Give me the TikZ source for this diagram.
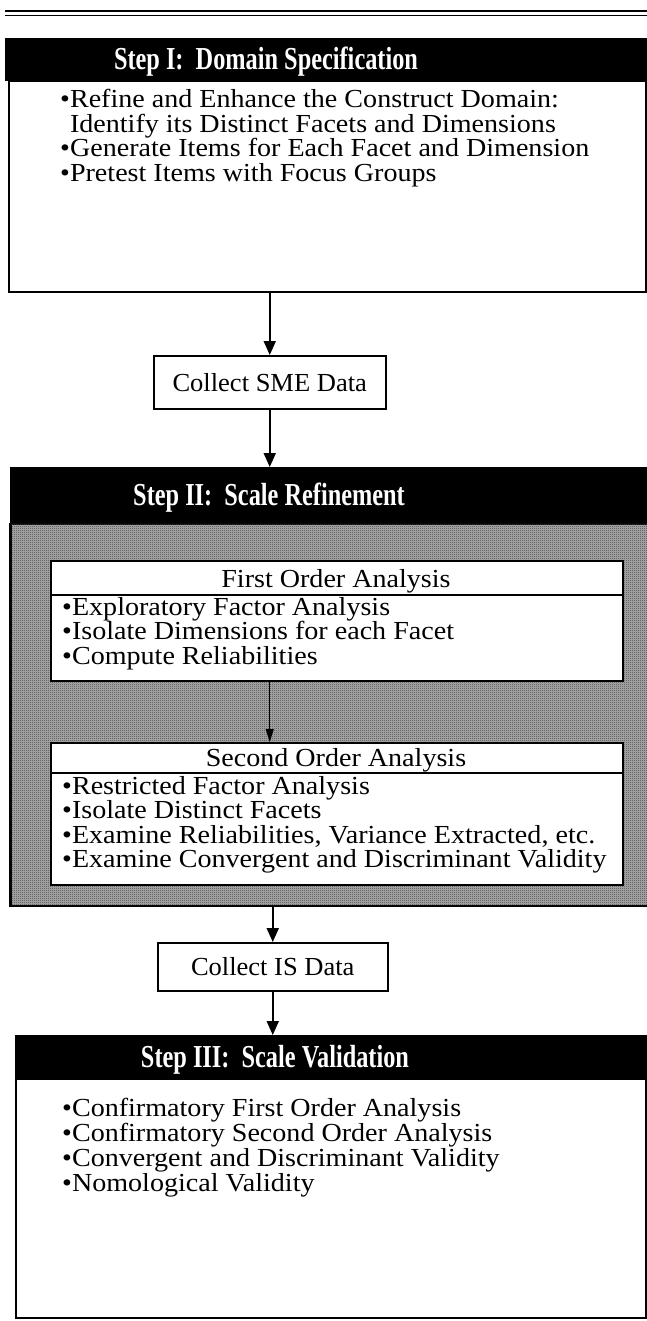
\documentclass[tikz,border=0pt]{standalone}
\usepackage{fontspec}
\setmainfont{Liberation Serif}
% wide body face and narrow heavy face for the step bands
\newfontfamily\bodyface{Liberation Serif}[FakeStretch=1.08]
\newfontfamily\boxface{Liberation Serif}[FakeStretch=1.02]
\newfontfamily\bandface{Liberation Serif Bold}[FakeStretch=0.76]
\usetikzlibrary{arrows.meta,patterns.meta}

% fine halftone dots for the Step II panel
\pgfdeclarepattern{
  name=stippledots,
  type=uncolored,
  bottom left={\pgfpoint{0pt}{0pt}},
  top right={\pgfpoint{2pt}{2pt}},
  tile size={\pgfpoint{2pt}{2pt}},
  code={
    \pgfpathrectangle{\pgfpoint{0pt}{0pt}}{\pgfpoint{1pt}{1pt}}
    \pgfpathrectangle{\pgfpoint{1pt}{1pt}}{\pgfpoint{1pt}{1pt}}
    \pgfusepath{fill}
  }
}

\tikzset{
  panel/.style={draw=black, line width=1.9pt, fill=white, inner sep=0pt},
  band/.style={draw=black, fill=black, line width=0.5pt, inner sep=0pt},
  bandtext/.style={text=white, inner sep=0pt, anchor=base,
    font=\bandface\fontsize{32}{32}\selectfont},
  item/.style={anchor=base west, inner sep=0pt, font=\bodyface\fontsize{26}{24}\selectfont},
  subtitle/.style={anchor=base, inner sep=0pt, font=\bodyface\fontsize{26}{24}\selectfont},
  collect/.style={draw=black, line width=1.5pt, fill=white, inner sep=0pt,
    font=\boxface\fontsize{26}{26}\selectfont},
  flow/.style={line width=2pt, -{Triangle[width=12pt,length=14pt]}},
  thinflow/.style={line width=1pt, -{Triangle[width=8pt,length=13pt]}},
}

\begin{document}
\begin{tikzpicture}[x=1pt,y=-1pt]
\useasboundingbox (0,0) rectangle (647,1321);

% double rule along the top
\draw[line width=1.3pt] (5,11) -- (647,11);
\draw[line width=1.8pt] (5,15.5) -- (647,15.5);

% ---------- Step I ----------
\node[panel, minimum width=637, minimum height=211, anchor=north west] (body1) at (8,80) {};
\node[band, minimum width=642, minimum height=42, anchor=north west] (head1) at (5,38) {};
\node[bandtext] (title1) at (266,70) {Step I:\ \ Domain Specification};
\node[item] (i1a) at (60,108) {\textbullet Refine and Enhance the Construct Domain:};
\node[item] (i1b) at (60,132.5) {\hphantom{\textbullet}Identify its Distinct Facets and Dimensions};
\node[item] (i1c) at (60,157) {\textbullet Generate Items for Each Facet and Dimension};
\node[item] (i1d) at (60,181.5) {\textbullet Pretest Items with Focus Groups};

% ---------- Collect SME Data ----------
\node[collect, minimum width=232, minimum height=53, anchor=north west] (sme) at (153,355) {Collect SME Data};

% ---------- Step II ----------
\node[band, minimum width=637, minimum height=56, anchor=north west] (head2) at (10,467) {};
\node[bandtext] (title2) at (269,505) {Step II:\ \ Scale Refinement};
\node[draw=black, line width=1.5pt, fill=black!32, inner sep=0pt,
      minimum width=637, minimum height=382, anchor=north west] (shade) at (10,523) {};
\fill[pattern=stippledots, pattern color=black!75] (shade.north west) rectangle (shade.south east);
\draw[line width=1.5pt] (shade.north west) -- (shade.south west) -- (shade.south east);

% first order analysis
\node[panel, minimum width=572, minimum height=120, anchor=north west] (fo) at (50,560) {};
\draw[line width=1.5pt] (fo.west |- 0,595) -- (fo.east |- 0,595);
\node[subtitle] (fot) at (336,587) {First Order Analysis};
\node[item] (fo1) at (62,615) {\textbullet Exploratory Factor Analysis};
\node[item] (fo2) at (62,639.5) {\textbullet Isolate Dimensions for each Facet};
\node[item] (fo3) at (62,664) {\textbullet Compute Reliabilities};

% second order analysis
\node[panel, minimum width=572, minimum height=142, anchor=north west] (so) at (50,742) {};
\draw[line width=1.5pt] (so.west |- 0,773) -- (so.east |- 0,773);
\node[subtitle] (sot) at (336,766) {Second Order Analysis};
\node[item] (so1) at (62,794) {\textbullet Restricted Factor Analysis};
\node[item] (so2) at (62,818.5) {\textbullet Isolate Distinct Facets};
\node[item] (so3) at (62,843) {\textbullet Examine Reliabilities, Variance Extracted, etc.};
\node[item] (so4) at (62,867.5) {\textbullet Examine Convergent and Discriminant Validity};

% ---------- Collect IS Data ----------
\node[collect, minimum width=230, minimum height=48, anchor=north west] (isd) at (157,942) {Collect IS Data};

% ---------- Step III ----------
\node[panel, minimum width=630, minimum height=239, anchor=north west] (body3) at (15,1078) {};
\node[band, minimum width=632, minimum height=43, anchor=north west] (head3) at (15,1035) {};
\node[bandtext] (title3) at (275,1067) {Step III:\ \ Scale Validation};
\node[item] (v1) at (62,1116) {\textbullet Confirmatory First Order Analysis};
\node[item] (v2) at (62,1141) {\textbullet Confirmatory Second Order Analysis};
\node[item] (v3) at (62,1166) {\textbullet Convergent and Discriminant Validity};
\node[item] (v4) at (62,1191) {\textbullet Nomological Validity};

% ---------- connectors ----------
\draw[flow] (body1.south -| sme.north) -- (sme.north);
\draw[flow] (sme.south) -- (head2.north -| sme.south);
\draw[thinflow] (fo.south -| sme.south) -- (so.north -| sme.south);
\draw[flow] (shade.south -| isd.north) -- (isd.north);
\draw[flow] (isd.south) -- (head3.north -| isd.south);
\end{tikzpicture}
\end{document}
